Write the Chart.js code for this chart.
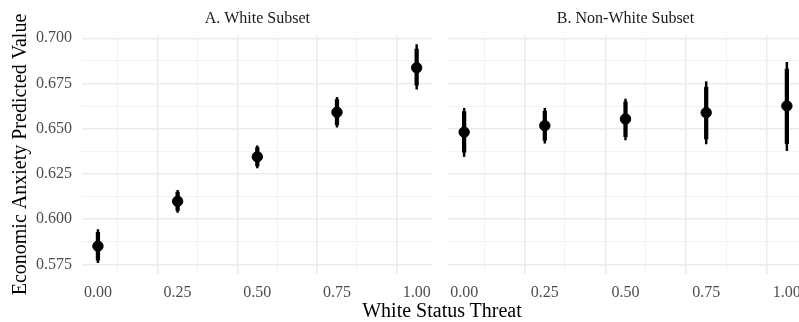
<!DOCTYPE html>
<html>
<head>
<meta charset="utf-8">
<script src="https://cdn.jsdelivr.net/npm/chart.js@4/dist/chart.umd.min.js"></script>
<style>
  html, body { margin: 0; padding: 0; background: #fff; overflow: hidden; }
  body { width: 799px; height: 322px; position: relative; }
  .panel { position: absolute; top: 0; height: 322px; }
  #panelA { left: 0; width: 440px; }
  #panelB { left: 440px; width: 380px; }
  #xTitle {
    position: absolute; left: 0; width: 884px; top: 298px; height: 24px;
    line-height: 24px; text-align: center;
    font-family: "Liberation Serif", "DejaVu Serif", serif; font-size: 20px; color: #000;
  }
</style>
</head>
<body>
<div class="panel" id="panelA"><canvas id="chartA"></canvas></div>
<div class="panel" id="panelB"><canvas id="chartB"></canvas></div>
<div id="xTitle">White Status Threat</div>
<script>
// x values (white status threat)
const threat = [0, 0.25, 0.5, 0.75, 1];

// A. White subset
const whiteFit  = [0.5851, 0.6099, 0.6345, 0.6591, 0.6837];
const whiteLo95 = [0.5759, 0.6038, 0.6284, 0.6508, 0.6719];
const whiteHi95 = [0.5943, 0.6159, 0.6405, 0.6673, 0.6965];
const whiteLo90 = [0.5774, 0.6048, 0.6294, 0.6521, 0.6741];
const whiteHi90 = [0.5928, 0.6150, 0.6396, 0.6661, 0.6940];

// B. Non-white subset
const nonWhiteFit  = [0.6481, 0.6517, 0.6554, 0.6589, 0.6626];
const nonWhiteLo95 = [0.6346, 0.6420, 0.6438, 0.6416, 0.6379];
const nonWhiteHi95 = [0.6613, 0.6613, 0.6664, 0.6760, 0.6867];
const nonWhiteLo90 = [0.6370, 0.6436, 0.6456, 0.6443, 0.6418];
const nonWhiteHi90 = [0.6595, 0.6597, 0.6648, 0.6730, 0.6830];

// ticks (major ones get labels, minor ones only gridlines)
const xMajor = [0, 0.25, 0.5, 0.75, 1];
const xMinor = [0.125, 0.375, 0.625, 0.875];
const yMajor = [0.575, 0.6, 0.625, 0.65, 0.675, 0.7];
const yMinor = [0.5875, 0.6125, 0.6375, 0.6625, 0.6875];

const serif = '"Liberation Serif", "DejaVu Serif", serif';

function isMajor(list, v) {
    return list.some(m => Math.abs(m - v) < 1e-6);
}

function gridOpts(list) {
    return {
        color: ctx => (ctx.tick && isMajor(list, ctx.tick.value)) ? '#ebebeb' : '#f0f0f0',
        lineWidth: ctx => (ctx.tick && isMajor(list, ctx.tick.value)) ? 1.5 : 0.8,
        drawTicks: false
    };
}

function makePanel(canvasId, title, fit, lo95, hi95, lo90, hi90, showY) {
    const pts = threat.map((x, i) => ({x: x, y: fit[i]}));
    const outer = threat.map((x, i) => ({x: x, y: [lo95[i], hi95[i]]}));
    const inner = threat.map((x, i) => ({x: x, y: [lo90[i], hi90[i]]}));

    return new Chart(document.getElementById(canvasId), {
        type: 'bar',
        data: {
            datasets: [
                {
                    type: 'scatter',
                    data: pts,
                    backgroundColor: '#000',
                    borderColor: '#000',
                    pointRadius: 5.2,
                    order: 0
                },
                {
                    data: inner,
                    backgroundColor: '#000',
                    barThickness: 3.6,
                    grouped: false,
                    borderWidth: 0,
                    order: 1
                },
                {
                    data: outer,
                    backgroundColor: '#000',
                    barThickness: 1.8,
                    grouped: false,
                    borderWidth: 0,
                    order: 2
                }
            ]
        },
        options: {
            responsive: true,
            maintainAspectRatio: false,
            animation: false,
            layout: {
                padding: showY ? {left: 0, right: 2, bottom: 0} : {left: 8, right: 17, bottom: 0}
            },
            plugins: {
                legend: {display: false},
                tooltip: {enabled: false},
                title: {
                    display: true,
                    text: title,
                    fullSize: false,
                    color: '#1a1a1a',
                    font: {family: serif, size: 16, weight: 'normal'},
                    padding: {top: 9.5, bottom: 6.3}
                }
            },
            scales: {
                x: {
                    type: 'linear',
                    offset: false,
                    min: -0.05,
                    max: 1.05,
                    border: {display: false},
                    grid: gridOpts(xMajor),
                    afterBuildTicks: s => {
                        s.ticks = xMajor.concat(xMinor).sort((a, b) => a - b).map(v => ({value: v}));
                    },
                    afterFit: s => { s.height = 48; },
                    ticks: {
                        autoSkip: false,
                        maxRotation: 0,
                        padding: 9,
                        color: '#4d4d4d',
                        font: {family: serif, size: 16},
                        callback: v => isMajor(xMajor, v) ? v.toFixed(2) : ''
                    }
                },
                y: {
                    min: 0.5697,
                    max: 0.7018,
                    border: {display: false},
                    grid: gridOpts(yMajor),
                    afterBuildTicks: s => {
                        s.ticks = yMajor.concat(yMinor).sort((a, b) => a - b).map(v => ({value: v}));
                    },
                    afterFit: s => { s.width = showY ? 82 : 0; },
                    title: {
                        display: showY,
                        text: 'Economic Anxiety Predicted Value',
                        color: '#000',
                        font: {family: serif, size: 20},
                        padding: {top: 9, bottom: 0}
                    },
                    ticks: {
                        display: showY,
                        autoSkip: false,
                        padding: 10,
                        color: '#4d4d4d',
                        font: {family: serif, size: 16},
                        callback: v => isMajor(yMajor, v) ? v.toFixed(3) : ''
                    }
                }
            }
        }
    });
}

makePanel('chartA', 'A. White Subset', whiteFit, whiteLo95, whiteHi95, whiteLo90, whiteHi90, true);
makePanel('chartB', 'B. Non-White Subset', nonWhiteFit, nonWhiteLo95, nonWhiteHi95, nonWhiteLo90, nonWhiteHi90, false);
</script>
</body>
</html>
